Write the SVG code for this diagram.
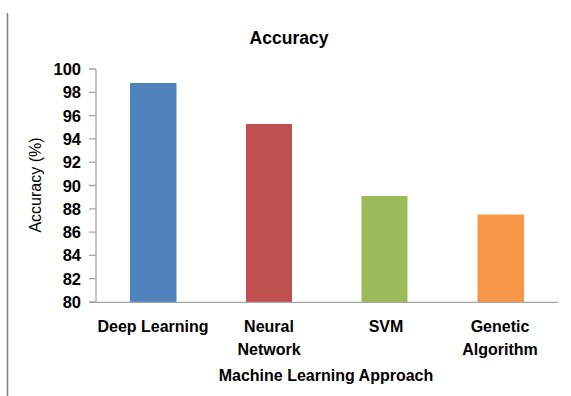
<svg xmlns="http://www.w3.org/2000/svg" width="571" height="396" viewBox="0 0 571 396">
<style>
text{font-family:"Liberation Sans",Arial,sans-serif;font-weight:bold;fill:#000}
.tick{font-size:16.5px;text-anchor:end}
.cat{font-size:16px;text-anchor:middle}
.ax{stroke:#a6a6a6;stroke-width:1.3;fill:none}
</style>
<rect width="571" height="396" fill="#fff"/>
<line x1="7.5" y1="13" x2="7.5" y2="396" stroke="#808080" stroke-width="1.5"/>
<text x="289" y="44" font-size="17.5" text-anchor="middle">Accuracy</text>
<g id="yaxis">
<path class="ax" d="M96 69V302M89 69H96M89 92.3H96M89 115.6H96M89 138.9H96M89 162.2H96M89 185.5H96M89 208.8H96M89 232.1H96M89 255.4H96M89 278.7H96M89 302H96"/>
<text class="tick" x="81" y="75">100</text>
<text class="tick" x="81" y="98.3">98</text>
<text class="tick" x="81" y="121.6">96</text>
<text class="tick" x="81" y="144.9">94</text>
<text class="tick" x="81" y="168.2">92</text>
<text class="tick" x="81" y="191.5">90</text>
<text class="tick" x="81" y="214.8">88</text>
<text class="tick" x="81" y="238.1">86</text>
<text class="tick" x="81" y="261.4">84</text>
<text class="tick" x="81" y="284.7">82</text>
<text class="tick" x="81" y="308">80</text>
<text x="41" y="185" font-size="16" style="font-weight:normal" text-anchor="middle" transform="rotate(-90 41 185)">Accuracy (%)</text>
</g>
<g id="bars">
<rect id="bar-deep" x="130" y="83" width="46.5" height="219" fill="#4f81bd"/>
<rect id="bar-neural" x="246" y="124" width="46" height="178" fill="#c0504d"/>
<rect id="bar-svm" x="361.5" y="196" width="46" height="106" fill="#9bbb59"/>
<rect id="bar-ga" x="477.5" y="214.5" width="46.5" height="87.5" fill="#f79646"/>
</g>
<path class="ax" d="M90 302.3H558"/>
<g id="xlabels">
<text class="cat" x="153" y="332">Deep Learning</text>
<text class="cat" x="269" y="332">Neural</text>
<text class="cat" x="269" y="355">Network</text>
<text class="cat" x="386" y="332">SVM</text>
<text class="cat" x="500" y="332">Genetic</text>
<text class="cat" x="500" y="355">Algorithm</text>
<text class="cat" x="326" y="381">Machine Learning Approach</text>
</g>
</svg>
